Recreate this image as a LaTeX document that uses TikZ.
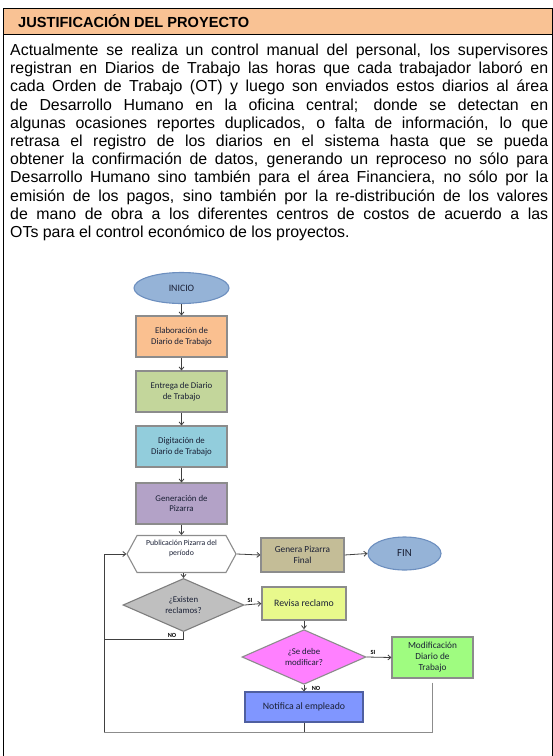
\documentclass[tikz,border=0pt]{standalone}
\usepackage{fontspec}
\setmainfont{Liberation Sans}
\newfontfamily\flowfont{Carlito}
\usepackage{xcolor}
\usetikzlibrary{shapes,shapes.geometric,shapes.symbols,arrows.meta,positioning}

\definecolor{hdrfill}{HTML}{F9C294}
\definecolor{boxgray}{HTML}{8C8C8C}
\definecolor{flowtext}{HTML}{1A2035}
\definecolor{linegray}{HTML}{404040}
\definecolor{elabfill}{HTML}{FAC090}
\definecolor{entrfill}{HTML}{C3D69B}
\definecolor{digifill}{HTML}{92CDDC}
\definecolor{genefill}{HTML}{B3A2C7}
\definecolor{pizafill}{HTML}{C4BD97}
\definecolor{termfill}{HTML}{95B3D7}
\definecolor{termdraw}{HTML}{6D8FBF}
\definecolor{exisfill}{HTML}{BFBFBF}
\definecolor{revifill}{HTML}{E8F98C}
\definecolor{debefill}{HTML}{FF80FF}
\definecolor{modifill}{HTML}{9FFC80}
\definecolor{notifill}{HTML}{8096FF}
\definecolor{notidraw}{HTML}{4F5FA0}

\begin{document}
\begin{tikzpicture}[x=1pt, y=-1pt,
    flowbox/.style={draw=boxgray, line width=1.1pt, align=center, inner sep=1pt,
        font=\flowfont\fontsize{8.8}{10.5}\selectfont, text=flowtext},
    term/.style={flowbox, ellipse, draw=termdraw, fill=termfill, font=\flowfont\fontsize{9.8}{11}\selectfont},
    decide/.style={flowbox, diamond, inner sep=0pt},
    flow/.style={draw=linegray, line width=0.8pt, -{Straight Barb[length=3pt,width=5pt]}},
    plain/.style={draw=linegray, line width=0.8pt},
    lbl/.style={font=\flowfont\bfseries\fontsize{6.3}{7}\selectfont, text=black, inner sep=0pt}]
    \useasboundingbox (0,0) rectangle (553,756);

    % Table frame
    \fill [hdrfill] (3,8) rectangle (552,34);
    \draw [line width=1pt] (3,756) -- (3,8) -- (552,8) -- (552,756);
    \draw [line width=1pt] (3,34) -- (552,34);
    \node [anchor=west, inner sep=0pt, font=\bfseries\fontsize{14.6}{16}\selectfont] (title) at (18,21) {JUSTIFICACIÓN DEL PROYECTO};

    % Text lines
    \foreach \n/\txt in {0/{Actualmente se realiza un control manual del personal, los supervisores},
        1/{registran en Diarios de Trabajo las horas que cada trabajador laboró en},
        2/{cada Orden de Trabajo (OT) y luego son enviados estos diarios al área},
        3/{de Desarrollo Humano en la oficina central; donde se detectan en},
        4/{algunas ocasiones reportes duplicados, o falta de información, lo que},
        5/{retrasa el registro de los diarios en el sistema hasta que se pueda},
        6/{obtener la confirmación de datos, generando un reproceso no sólo para},
        7/{Desarrollo Humano sino también para el área Financiera, no sólo por la},
        8/{emisión de los pagos, sino también por la re-distribución de los valores},
        9/{de mano de obra a los diferentes centros de costos de acuerdo a las}} {
        \node [anchor=base west, inner sep=0pt, font=\fontsize{15.9}{18.2}\selectfont] (line\n) at (10, 55.5+18.2*\n) {\makebox[538pt][s]{\txt}};
    }
    \node [anchor=base west, inner sep=0pt, font=\fontsize{15.9}{18.2}\selectfont] (line10) at (10, 55.5+18.2*10) {OTs para el control económico de los proyectos.};

    % Flowchart
    \node [term, minimum width=95pt, minimum height=31pt] (inicio) at (181.5,288) {INICIO};
    \node [flowbox, fill=elabfill, minimum width=91pt, minimum height=41pt] (elab) at (181.5,336.5) {Elaboración de\\Diario de Trabajo};
    \node [flowbox, fill=entrfill, minimum width=91pt, minimum height=41pt] (entrega) at (181.5,391.5) {Entrega de Diario\\de Trabajo};
    \node [flowbox, fill=digifill, minimum width=91pt, minimum height=41pt] (digit) at (181.5,446.5) {Digitación de\\Diario de Trabajo};
    \node [flowbox, fill=genefill, minimum width=91pt, minimum height=41pt] (gener) at (181.5,503.5) {Generación de\\Pizarra};
    \node [flowbox, signal, signal to=west and east, signal pointer angle=123, fill=white,
        minimum width=109pt, minimum height=37pt, inner sep=0pt, font=\flowfont\fontsize{7.8}{9.5}\selectfont] (publ) at (181.5,554) {Publicación Pizarra del\\período\\[3pt]};
    \node [flowbox, fill=pizafill, minimum width=83pt, minimum height=34pt, font=\flowfont\fontsize{9.3}{11}\selectfont] (genfin) at (302.5,555) {Genera Pizarra\\Final};
    \node [term, minimum width=73pt, minimum height=33pt, font=\flowfont\fontsize{10.8}{12}\selectfont] (fin) at (404.5,553.5) {FIN};
    \node [decide, fill=exisfill, draw=boxgray!90!black, minimum width=121pt, minimum height=44pt] (existen) at (183.5,605) {¿Existen\\reclamos?};
    \node [flowbox, fill=revifill, minimum width=84pt, minimum height=33pt, font=\flowfont\fontsize{9.8}{11}\selectfont] (revisa) at (304,603.5) {Revisa reclamo};
    \node [decide, fill=debefill, minimum width=124pt, minimum height=47pt] (debe) at (304,657) {¿Se debe\\modificar?};
    \node [flowbox, fill=modifill, minimum width=81pt, minimum height=41pt, font=\flowfont\fontsize{9.3}{11}\selectfont] (modif) at (432.5,657.5) {Modificación\\Diario de\\Trabajo};
    \node [flowbox, fill=notifill, draw=notidraw, minimum width=118pt, minimum height=30pt, font=\flowfont\fontsize{9.8}{11}\selectfont] (notif) at (304,707) {Notifica al empleado};

    % Connectors
    \draw [flow] (inicio.south) -- (elab.north);
    \draw [flow] (elab.south) -- (entrega.north);
    \draw [flow] (entrega.south) -- (digit.north);
    \draw [flow] (digit.south) -- (gener.north);
    \draw [flow] (gener.south) -- (publ.north);
    \draw [flow] (publ.east) -- (genfin.west);
    \draw [flow] (genfin.east) -- (fin.west);
    \draw [flow] (existen.north |- publ.south) -- (existen.north);
    \draw [flow] (existen.east) -- (revisa.west);
    \draw [flow] (revisa.south) -- (debe.north);
    \draw [flow] (debe.east) -- (modif.west);
    \draw [flow] (debe.south) -- (notif.north);

    % Return loop
    \coordinate (loopL) at (104,732);
    \coordinate (noL) at (104,639);
    \draw [plain] (existen.south) |- (noL);
    \draw [plain, draw=boxgray] (modif.south) ++(0,4) |- (loopL);
    \draw [plain] (notif.south) -- (notif.south |- loopL);
    \draw [flow] (loopL) |- (publ.west);

    % Branch labels
    \node [lbl] (si1) at (250,600) {SI};
    \node [lbl] (no1) at (172,635) {NO};
    \node [lbl] (si2) at (373,652) {SI};
    \node [lbl] (no2) at (316,688) {NO};
\end{tikzpicture}
\end{document}
